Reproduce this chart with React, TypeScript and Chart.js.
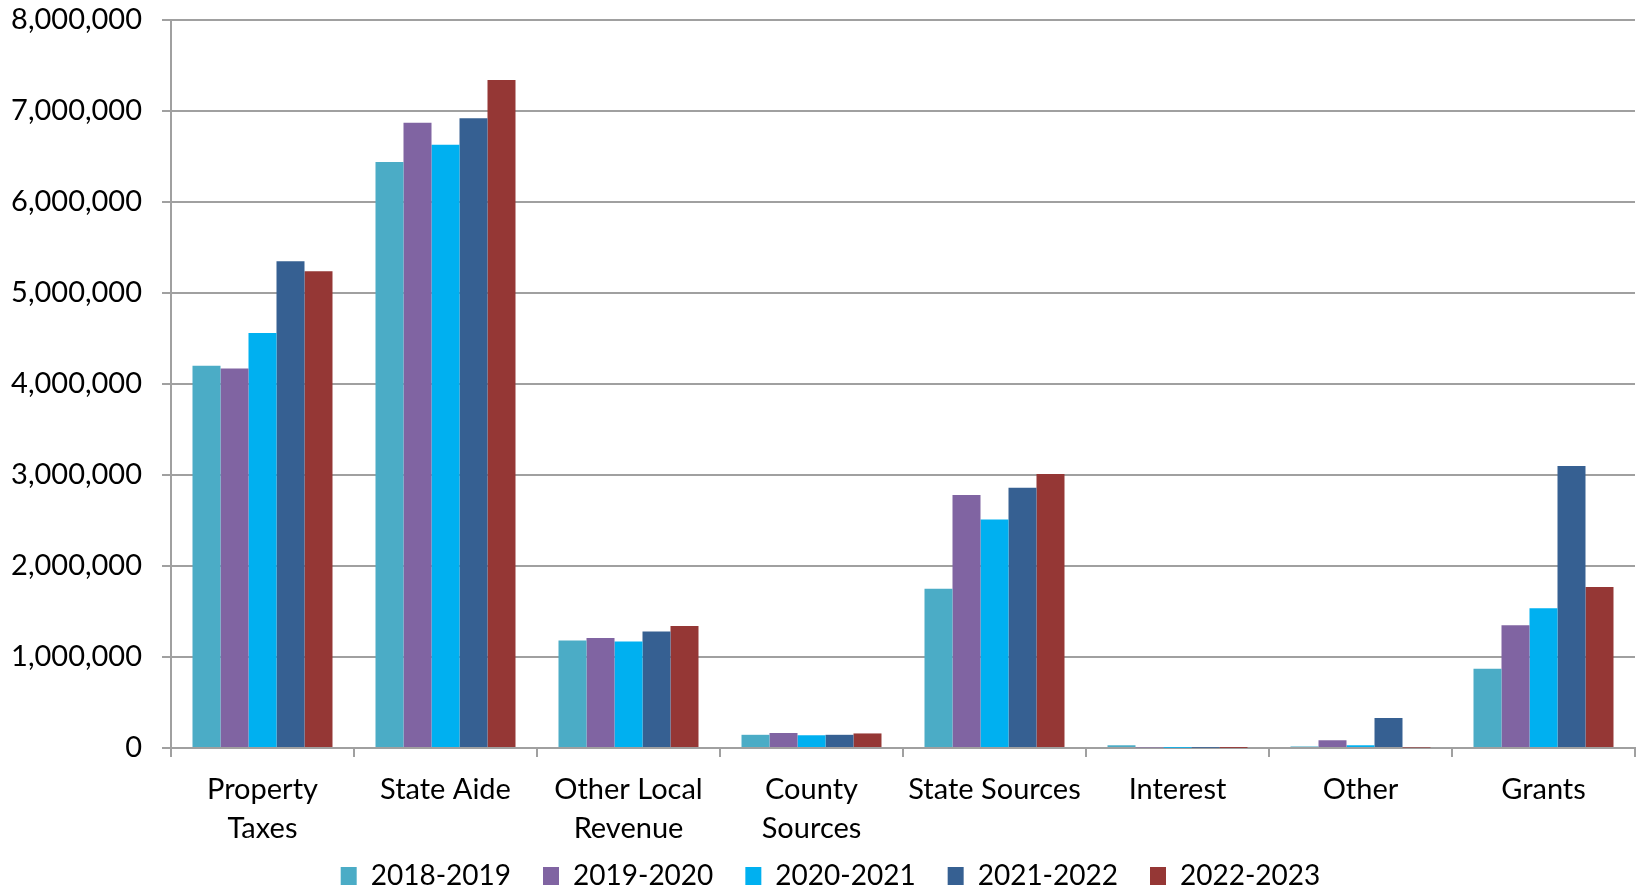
import React, { useEffect, useRef } from "react";
import { Chart, registerables } from "chart.js";

Chart.register(...registerables);

const categories: (string | string[])[] = [
  ["Property", "Taxes"],
  "State Aide",
  ["Other Local", "Revenue"],
  ["County", "Sources"],
  "State Sources",
  "Interest",
  "Other",
  "Grants",
];

const seriesNames = ["2018-2019", "2019-2020", "2020-2021", "2021-2022", "2022-2023"];
const seriesColors = ["#4BACC6", "#8064A2", "#00B0F0", "#366092", "#953735"];

const v2018_2019 = [4200000, 6440000, 1180000, 145000, 1750000, 30000, 17000, 870000];
const v2019_2020 = [4170000, 6870000, 1210000, 165000, 2780000, 6000, 85000, 1350000];
const v2020_2021 = [4560000, 6630000, 1170000, 140000, 2510000, 2000, 30000, 1535000];
const v2021_2022 = [5350000, 6920000, 1280000, 145000, 2860000, 2000, 330000, 3100000];
const v2022_2023 = [5240000, 7340000, 1340000, 160000, 3010000, 1000, 5000, 1770000];

const seriesValues = [v2018_2019, v2019_2020, v2020_2021, v2021_2022, v2022_2023];

const yTicks = [0, 1000000, 2000000, 3000000, 4000000, 5000000, 6000000, 7000000, 8000000];

const FONT = "Lato, 'Open Sans', sans-serif";
const GRID = "#a0a0a0";
const PAD_LEFT = 26;

export default function App() {
  const ref = useRef<HTMLCanvasElement | null>(null);

  useEffect(() => {
    if (!ref.current) return;
    const chart = new Chart(ref.current, {
      type: "bar",
      data: {
        labels: categories,
        datasets: seriesNames.map((name, i) => ({
          label: name,
          data: seriesValues[i],
          backgroundColor: seriesColors[i],
          borderWidth: 0,
          categoryPercentage: 0.765,
          barPercentage: 1,
        })),
      },
      options: {
        animation: false,
        responsive: false,
        maintainAspectRatio: false,
        layout: { padding: { top: 20, right: 8, left: PAD_LEFT, bottom: -12 } },
        plugins: {
          tooltip: { enabled: false },
          legend: {
            position: "bottom",
            labels: {
              font: { family: FONT, size: 28 },
              color: "#000",
              boxWidth: 16,
              boxHeight: 18,
              padding: 32,
            },
          },
        },
        scales: {
          x: {
            afterFit: (scale: any) => {
              scale.height = 82;
              scale._computeLabelArea = () => undefined;
            },
            grid: {
              drawOnChartArea: false,
              drawTicks: true,
              tickLength: 9,
              color: GRID,
              lineWidth: 2,
              offset: true,
            },
            border: { color: GRID, width: 2 },
            ticks: {
              font: { family: FONT, size: 29, lineHeight: 1.345 },
              color: "#000",
              padding: 13,
              maxRotation: 0,
              autoSkip: false,
            },
          },
          y: {
            min: 0,
            max: 8000000,
            afterFit: (scale: any) => {
              scale.width = 171 - PAD_LEFT;
              scale.paddingTop = 0;
              scale.paddingBottom = 0;
              scale._computeLabelArea = () => undefined;
            },
            afterBuildTicks: (scale: any) => {
              scale.ticks = yTicks.map((v) => ({ value: v }));
            },
            grid: {
              color: GRID,
              lineWidth: 2,
              tickLength: 9,
              drawTicks: true,
            },
            border: { color: GRID, width: 2 },
            ticks: {
              font: { family: FONT, size: 29 },
              color: "#000",
              padding: 20,
              callback: (v: any) => Number(v).toLocaleString("en-US"),
            },
          },
        },
      },
    });
    return () => chart.destroy();
  }, []);

  return (
    <div style={{ position: "fixed", left: 0, top: 0, width: 1643, height: 888, background: "#fff", overflow: "hidden" }}>
      <canvas ref={ref} width={1643} height={888} style={{ width: 1643, height: 888 }} />
    </div>
  );
}
